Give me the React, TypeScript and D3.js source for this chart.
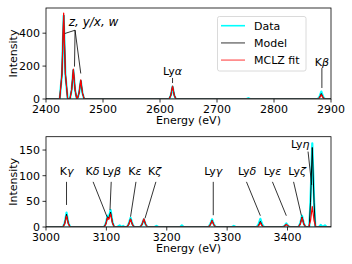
import * as d3 from "d3";

// spectrum points [energy (eV), intensity]
const topData: [number, number][] = [
  [2400, 0], [2424, 0], [2428, 150], [2431, 505], [2434, 150], [2438, 0],
  [2442, 0], [2445, 55], [2448, 175], [2451, 55], [2454, 0],
  [2455, 0], [2458, 35], [2461, 110], [2464, 35], [2467, 0],
  [2616, 0], [2619, 22], [2622, 76], [2625, 22], [2628, 0],
  [2752, 0], [2755, 5], [2758, 0],
  [2877, 0], [2880, 14], [2883, 45], [2886, 14], [2889, 0], [2900, 0],
];
const topModel: [number, number][] = [
  [2400, 0], [2424, 0], [2428, 152], [2431, 510], [2434, 152], [2438, 0],
  [2442, 0], [2445, 56], [2448, 178], [2451, 56], [2454, 0],
  [2455, 0], [2458, 36], [2461, 112], [2464, 36], [2467, 0],
  [2616, 0], [2619, 23], [2622, 78], [2625, 23], [2628, 0],
  [2877, 0], [2880, 10], [2883, 33], [2886, 10], [2889, 0], [2900, 0],
];
const topFit: [number, number][] = [
  [2400, 0], [2424, 0], [2428, 155], [2431, 522], [2434, 155], [2438, 0],
  [2442, 0], [2445, 57], [2448, 181], [2451, 57], [2454, 0],
  [2455, 0], [2458, 37], [2461, 116], [2464, 37], [2467, 0],
  [2616, 0], [2619, 23], [2622, 79], [2625, 23], [2628, 0],
  [2877, 0], [2880, 8], [2883, 25], [2886, 8], [2889, 0], [2900, 0],
];

const bottomData: [number, number][] = [
  [3000, 0], [3028, 0], [3031, 8], [3034, 28], [3037, 8], [3040, 0],
  [3096, 0], [3099, 7], [3102, 22], [3104, 18], [3107, 33], [3110, 10], [3113, 0],
  [3118, 0], [3122, 3], [3125, 0], [3128, 2], [3130, 0],
  [3134, 0], [3137, 6], [3140, 18], [3143, 6], [3146, 0],
  [3156, 0], [3159, 5], [3162, 15], [3165, 5], [3168, 0],
  [3180, 0], [3183, 2], [3186, 0],
  [3222, 0], [3225, 3], [3228, 0],
  [3269, 0], [3272, 5], [3275, 15], [3278, 5], [3281, 0],
  [3308, 0], [3311, 2], [3314, 0],
  [3349, 0], [3352, 5], [3355, 16], [3358, 5], [3361, 0],
  [3392, 0], [3395, 2], [3398, 7], [3401, 2], [3404, 0],
  [3418, 0], [3421, 7], [3424, 22], [3427, 7], [3430, 0],
  [3436, 0], [3438, 50], [3441, 163], [3444, 50], [3446, 0],
  [3452, 0], [3455, 4], [3458, 0], [3462, 3], [3465, 0], [3472, 0],
];
const bottomModel: [number, number][] = [
  [3000, 0], [3028, 0], [3031, 7], [3034, 25], [3037, 7], [3040, 0],
  [3096, 0], [3099, 6], [3102, 20], [3104, 17], [3107, 29], [3110, 9], [3113, 0],
  [3134, 0], [3137, 5], [3140, 16], [3143, 5], [3146, 0],
  [3156, 0], [3159, 5], [3162, 15], [3165, 5], [3168, 0],
  [3269, 0], [3272, 4], [3275, 13], [3278, 4], [3281, 0],
  [3349, 0], [3352, 3], [3355, 11], [3358, 3], [3361, 0],
  [3392, 0], [3395, 2], [3398, 5], [3401, 2], [3404, 0],
  [3418, 0], [3421, 6], [3424, 20], [3427, 6], [3430, 0],
  [3436, 0], [3438, 47], [3441, 155], [3444, 47], [3446, 0], [3472, 0],
];
const bottomFit: [number, number][] = [
  [3000, 0], [3028, 0], [3031, 6], [3034, 21], [3037, 6], [3040, 0],
  [3096, 0], [3099, 5], [3102, 18], [3104, 15], [3107, 25], [3110, 8], [3113, 0],
  [3134, 0], [3137, 5], [3140, 15], [3143, 5], [3146, 0],
  [3156, 0], [3159, 5], [3162, 16], [3165, 5], [3168, 0],
  [3269, 0], [3272, 4], [3275, 12], [3278, 4], [3281, 0],
  [3349, 0], [3352, 2], [3355, 8], [3358, 2], [3361, 0],
  [3392, 0], [3395, 2], [3398, 5], [3401, 2], [3404, 0],
  [3418, 0], [3421, 5], [3424, 18], [3427, 5], [3430, 0],
  [3435, 0], [3438, 12], [3441, 40], [3444, 12], [3447, 0], [3472, 0],
];

const topXTicks = [2400, 2500, 2600, 2700, 2800, 2900];
const topYTicks = [0, 200, 400];
const bottomXTicks = [3000, 3100, 3200, 3300, 3400];
const bottomYTicks = [0, 50, 100, 150];

const legendLabels = ["Data", "Model", "MCLZ fit"];

// annotation: label, greek part, text position (E, I), line start (E, I), line ends [(E, I)]
type Note = { base: string; greek: string; italic?: boolean; start?: boolean; tx: number; ty: number; from: [number, number]; to: [number, number][] };
const topNotes: Note[] = [
  { base: "z, y/x, w", greek: "", italic: true, start: true, tx: 2440, ty: 444, from: [2451, 418], to: [[2433, 398], [2450, 197], [2461, 155]] },
  { base: "Ly", greek: "α", tx: 2622, ty: 145, from: [2622, 128], to: [[2622, 97]] },
  { base: "K", greek: "β", tx: 2884, ty: 200, from: [2884, 188], to: [[2884, 67]] },
];
const bottomNotes: Note[] = [
  { base: "K", greek: "γ", tx: 3034, ty: 101, from: [3034, 88], to: [[3034, 43]] },
  { base: "K", greek: "δ", tx: 3077, ty: 101, from: [3078, 88], to: [[3101, 20]] },
  { base: "Ly", greek: "β", tx: 3109, ty: 101, from: [3108, 88], to: [[3106, 33]] },
  { base: "K", greek: "ε", tx: 3147, ty: 101, from: [3149, 88], to: [[3140, 20]] },
  { base: "K", greek: "ζ", tx: 3180, ty: 101, from: [3182, 88], to: [[3164, 17]] },
  { base: "Ly", greek: "γ", tx: 3277, ty: 101, from: [3277, 88], to: [[3277, 23]] },
  { base: "Ly", greek: "δ", tx: 3333, ty: 101, from: [3332, 88], to: [[3355, 22]] },
  { base: "Ly", greek: "ε", tx: 3375, ty: 101, from: [3375, 88], to: [[3398, 22]] },
  { base: "Ly", greek: "ζ", tx: 3416, ty: 101, from: [3410, 88], to: [[3423, 22]] },
  { base: "Ly", greek: "η", tx: 3421, ty: 154, from: [3434, 147], to: [[3440, 82]] },
];

const FONT = "DejaVu Sans, sans-serif";
const left = 46;
const right = 331;

function Panel({ top, bottom, xDomain, yMax, xTicks, yTicks, data, model, fit, notes }: {
  top: number; bottom: number; xDomain: [number, number]; yMax: number;
  xTicks: number[]; yTicks: number[];
  data: [number, number][]; model: [number, number][]; fit: [number, number][]; notes: Note[];
}) {
  const x = d3.scaleLinear().domain(xDomain).range([left, right]);
  const y = d3.scaleLinear().domain([0, yMax]).range([bottom, top]);
  const line = d3.line<[number, number]>().x((d) => x(d[0])).y((d) => y(d[1]));
  const clipId = `clip${Math.round(top)}`;
  return (
    <g>
      <defs>
        <clipPath id={clipId}>
          <rect x={left} y={top} width={right - left} height={bottom - top} />
        </clipPath>
      </defs>
      <g clipPath={`url(#${clipId})`}>
        <path d={line(data) ?? ""} fill="none" stroke="#00ffff" strokeWidth={2.2} strokeLinejoin="round" />
        <path d={line(model) ?? ""} fill="none" stroke="#000" strokeWidth={1} strokeLinejoin="round" />
        <path d={line(fit) ?? ""} fill="none" stroke="#ff0000" strokeWidth={1.2} strokeLinejoin="round" />
        <line x1={left} x2={right} y1={y(0)} y2={y(0)} stroke="#2a8a8a" strokeWidth={1.2} />
      </g>
      {notes.map((n, i) => (
        <g key={i}>
          {n.to.map((t, j) => (
            <line key={j} x1={x(n.from[0])} y1={y(n.from[1])} x2={x(t[0])} y2={y(t[1])} stroke="#000" strokeWidth={0.8} />
          ))}
          <text x={x(n.tx)} y={y(n.ty)} textAnchor={n.start ? "start" : "middle"} fontSize={n.start ? 12 : 11}
            fontFamily={FONT} fontStyle={n.italic ? "italic" : "normal"}>
            {n.base}
            {n.greek && <tspan fontStyle="italic">{n.greek}</tspan>}
          </text>
        </g>
      ))}
      <rect x={left} y={top} width={right - left} height={bottom - top} fill="none" stroke="#000" strokeWidth={0.8} />
      {xTicks.map((t) => (
        <g key={t}>
          <line x1={x(t)} x2={x(t)} y1={bottom} y2={bottom + 3.5} stroke="#000" strokeWidth={0.8} />
          <text x={x(t)} y={bottom + 13.5} textAnchor="middle" fontSize={11} fontFamily={FONT}>{t}</text>
        </g>
      ))}
      {yTicks.map((t) => (
        <g key={t}>
          <line x1={left - 3.5} x2={left} y1={y(t)} y2={y(t)} stroke="#000" strokeWidth={0.8} />
          <text x={left - 6} y={y(t)} dy="0.36em" textAnchor="end" fontSize={11} fontFamily={FONT}>{t}</text>
        </g>
      ))}
      <text x={(left + right) / 2} y={bottom + 25} textAnchor="middle" fontSize={11} fontFamily={FONT}>Energy (eV)</text>
      <text transform={`translate(17,${(top + bottom) / 2}) rotate(-90)`} textAnchor="middle" fontSize={11} fontFamily={FONT}>Intensity</text>
    </g>
  );
}

export default function App() {
  const legendColors = ["#00ffff", "#808080", "#ff8080"];
  return (
    <svg width={352} height={264} style={{ position: "absolute", left: 0, top: 0, background: "#fff" }}>
      <Panel top={8} bottom={99} xDomain={[2400, 2900]} yMax={553} xTicks={topXTicks} yTicks={topYTicks}
        data={topData} model={topModel} fit={topFit} notes={topNotes} />
      <Panel top={136.7} bottom={227} xDomain={[3000, 3472]} yMax={176} xTicks={bottomXTicks} yTicks={bottomYTicks}
        data={bottomData} model={bottomModel} fit={bottomFit} notes={bottomNotes} />
      <g>
        <rect x={217.5} y={16.5} width={88.5} height={54.5} rx={2} fill="#fff" fillOpacity={0.8} stroke="#d0d0d0" strokeWidth={0.8} />
        {legendLabels.map((l, i) => (
          <g key={l}>
            <line x1={221} x2={245} y1={25.7 + i * 17.2} y2={25.7 + i * 17.2} stroke={legendColors[i]} strokeWidth={1.6} />
            <text x={254} y={25.7 + i * 17.2} dy="0.36em" fontSize={11} fontFamily={FONT}>{l}</text>
          </g>
        ))}
      </g>
    </svg>
  );
}
